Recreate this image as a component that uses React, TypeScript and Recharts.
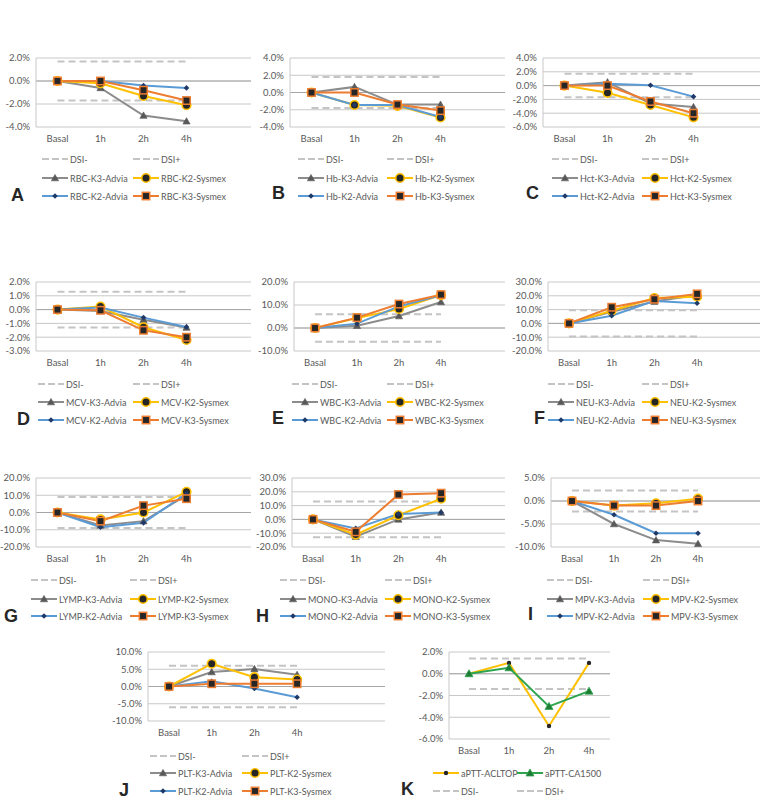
import React from 'react';
import { LineChart, Line, XAxis, YAxis, CartesianGrid, ReferenceLine } from 'recharts';

const categories = ['Basal', '1h', '2h', '4h'];

// A – RBC
const rbcK3Advia = [0, -0.6, -3.0, -3.5];
const rbcK2Sysmex = [0, -0.2, -1.3, -2.1];
const rbcK2Advia = [0, 0.0, -0.4, -0.6];
const rbcK3Sysmex = [0, 0.0, -0.8, -1.7];
const rbcDsi = 1.7;
const rbcTicks = [2, 0, -2, -4];

// B – Hb
const hbK3Advia = [0, 0.65, -1.4, -1.4];
const hbK2Sysmex = [0, -1.45, -1.55, -2.9];
const hbK2Advia = [0, -1.45, -1.45, -2.85];
const hbK3Sysmex = [0, 0.0, -1.4, -2.1];
const hbDsi = 1.8;
const hbTicks = [4, 2, 0, -2, -4];

// C – Hct
const hctK3Advia = [0, 0.5, -2.6, -3.1];
const hctK2Sysmex = [0, -1.05, -2.8, -4.6];
const hctK2Advia = [0, 0.25, 0.05, -1.6];
const hctK3Sysmex = [0, 0.0, -2.3, -4.0];
const hctDsi = 1.7;
const hctTicks = [4, 2, 0, -2, -4, -6];

// D – MCV
const mcvK3Advia = [0, -0.1, -0.73, -1.3];
const mcvK2Sysmex = [0, 0.22, -1.28, -2.2];
const mcvK2Advia = [0, 0.15, -0.58, -1.26];
const mcvK3Sysmex = [0, -0.05, -1.5, -2.0];
const mcvDsi = 1.3;
const mcvTicks = [2, 1, 0, -1, -2, -3];

// E – WBC
const wbcK3Advia = [0, 1.0, 5.2, 11.3];
const wbcK2Sysmex = [0, 4.3, 8.3, 14.3];
const wbcK2Advia = [0, 1.9, 9.4, 14.2];
const wbcK3Sysmex = [0, 4.5, 10.4, 14.5];
const wbcDsi = 6;
const wbcTicks = [20, 10, 0, -10];

// F – NEU
const neuK3Advia = [0, 8.5, 15.8, 20.6];
const neuK2Sysmex = [0, 9.2, 18.4, 19.4];
const neuK2Advia = [0, 5.6, 16.3, 14.6];
const neuK3Sysmex = [0, 11.7, 17.5, 21.4];
const neuDsi = 9.5;
const neuTicks = [30, 20, 10, 0, -10, -20];

// G – LYMP
const lympK3Advia = [0, -7.5, -5, 10];
const lympK2Sysmex = [0, -4, 0, 12];
const lympK2Advia = [0, -8.5, -6, 11];
const lympK3Sysmex = [0, -5, 4, 8];
const lympDsi = 9;
const lympTicks = [20, 10, 0, -10, -20];

// H – MONO
const monoK3Advia = [0, -12.5, 0, 5];
const monoK2Sysmex = [0, -11, 3, 15];
const monoK2Advia = [0, -6.5, 4, 5];
const monoK3Sysmex = [0, -9, 18, 19];
const monoDsi = 13;
const monoTicks = [30, 20, 10, 0, -10, -20];

// I – MPV
const mpvK3Advia = [0, -5, -8.5, -9.3];
const mpvK2Sysmex = [0, -1, -0.5, 0.5];
const mpvK2Advia = [0, -3, -7.0, -7.0];
const mpvK3Sysmex = [0, -1, -1, 0];
const mpvDsi = 2.3;
const mpvTicks = [5, 0, -5, -10];

// J – PLT
const pltK3Advia = [0, 4.2, 5.1, 3.4];
const pltK2Sysmex = [0, 6.6, 2.7, 2.0];
const pltK2Advia = [0, 1.5, -0.6, -3.1];
const pltK3Sysmex = [0, 0.8, 0.8, 0.8];
const pltDsi = 6;
const pltTicks = [10, 5, 0, -5, -10];

// K – aPTT
const apttAcltop = [0, 1.0, -4.8, 1.0];
const apttCa1500 = [0, 0.55, -3.0, -1.6];
const apttDsi = 1.4;
const apttTicks = [2, 0, -2, -4, -6];

type Kind = 'k3a' | 'k2s' | 'k2a' | 'k3s' | 'acl' | 'ca' | 'dsi';

const COLORS: Record<Kind, string> = {
  k3a: '#8C8C8C',
  k2s: '#FFC000',
  k2a: '#5B9BD5',
  k3s: '#ED7D31',
  acl: '#FFC000',
  ca: '#2DA44E',
  dsi: '#C4C4C4',
};

function Marker({ kind, cx, cy }: { kind: Kind; cx: number; cy: number }) {
  if (cx == null || cy == null) return null;
  switch (kind) {
    case 'k3a':
      return <path d={`M${cx},${cy - 3.6}L${cx + 3.6},${cy + 2.8}L${cx - 3.6},${cy + 2.8}Z`} fill="#595959" stroke="#595959" strokeWidth={0.6} />;
    case 'k2s':
      return <circle cx={cx} cy={cy} r={4.3} fill="#262626" stroke="#FFC000" strokeWidth={1.6} />;
    case 'k2a':
      return <path d={`M${cx},${cy - 2.8}L${cx + 2.8},${cy}L${cx},${cy + 2.8}L${cx - 2.8},${cy}Z`} fill="#1F3A68" />;
    case 'k3s':
      return <rect x={cx - 3.7} y={cy - 3.7} width={7.4} height={7.4} fill="#262626" stroke="#ED7D31" strokeWidth={1.5} />;
    case 'acl':
      return <circle cx={cx} cy={cy} r={2.2} fill="#262626" />;
    case 'ca':
      return <path d={`M${cx},${cy - 4}L${cx + 4},${cy + 3}L${cx - 4},${cy + 3}Z`} fill="#1E7B34" stroke="#2DA44E" strokeWidth={0.8} />;
    default:
      return null;
  }
}

type Series = { kind: Kind; label: string; values: number[] };
type LegendItem = { kind: Kind; label: string };

type PanelCfg = {
  letter: string;
  plot: { x: number; y: number; w: number; h: number };
  sp: number;
  pad: number;
  ticks: number[];
  dsi: number;
  series: Series[];
  legend: { x1: number; x2: number; rows: number[]; items: [LegendItem, LegendItem][] };
  letterPos: { x: number; y: number };
};

function std(prefix: string, k3a: number[], k2s: number[], k2a: number[], k3s: number[]): Series[] {
  return [
    { kind: 'k3a', label: `${prefix}-K3-Advia`, values: k3a },
    { kind: 'k2s', label: `${prefix}-K2-Sysmex`, values: k2s },
    { kind: 'k2a', label: `${prefix}-K2-Advia`, values: k2a },
    { kind: 'k3s', label: `${prefix}-K3-Sysmex`, values: k3s },
  ];
}

const dsiRow: [LegendItem, LegendItem] = [
  { kind: 'dsi', label: 'DSI-' },
  { kind: 'dsi', label: 'DSI+' },
];

function stdLegend(s: Series[]): [LegendItem, LegendItem][] {
  return [dsiRow, [s[0], s[1]], [s[2], s[3]]];
}

function mk(letter: string, prefix: string, arrs: number[][], ticks: number[], dsi: number,
  plot: PanelCfg['plot'], sp: number, pad: number, x1: number, x2: number, rows: number[], letterPos: { x: number; y: number }): PanelCfg {
  const series = std(prefix, arrs[0], arrs[1], arrs[2], arrs[3]);
  return { letter, plot, sp, pad, ticks, dsi, series, legend: { x1, x2, rows, items: stdLegend(series) }, letterPos };
}

const row1 = [159, 178, 196];
const row2 = [384, 402, 420];
const row3 = [580, 599, 616];

const panels: PanelCfg[] = [
  mk('A', 'RBC', [rbcK3Advia, rbcK2Sysmex, rbcK2Advia, rbcK3Sysmex], rbcTicks, rbcDsi, { x: 36, y: 58, w: 215, h: 69 }, 43, 21.5, 42, 133, row1, { x: 11, y: 201 }),
  mk('B', 'Hb', [hbK3Advia, hbK2Sysmex, hbK2Advia, hbK3Sysmex], hbTicks, hbDsi, { x: 290, y: 58, w: 215, h: 69 }, 43, 21.5, 298, 387, row1, { x: 272, y: 199 }),
  mk('C', 'Hct', [hctK3Advia, hctK2Sysmex, hctK2Advia, hctK3Sysmex], hctTicks, hctDsi, { x: 543, y: 58, w: 217, h: 69 }, 43, 21.5, 552, 642, row1, { x: 526, y: 199 }),
  mk('D', 'MCV', [mcvK3Advia, mcvK2Sysmex, mcvK2Advia, mcvK3Sysmex], mcvTicks, mcvDsi, { x: 36, y: 282, w: 215, h: 69 }, 43, 21.5, 38, 133, row2, { x: 17, y: 425 }),
  mk('E', 'WBC', [wbcK3Advia, wbcK2Sysmex, wbcK2Advia, wbcK3Sysmex], wbcTicks, wbcDsi, { x: 294, y: 282, w: 211, h: 69 }, 42, 21, 292, 387, row2, { x: 272, y: 424 }),
  mk('F', 'NEU', [neuK3Advia, neuK2Sysmex, neuK2Advia, neuK3Sysmex], neuTicks, neuDsi, { x: 548, y: 282, w: 212, h: 69 }, 42.7, 21, 548, 642, row2, { x: 534, y: 424 }),
  mk('G', 'LYMP', [lympK3Advia, lympK2Sysmex, lympK2Advia, lympK3Sysmex], lympTicks, lympDsi, { x: 36, y: 478, w: 215, h: 69 }, 43, 21.5, 31, 130, row3, { x: 4, y: 622 }),
  mk('H', 'MONO', [monoK3Advia, monoK2Sysmex, monoK2Advia, monoK3Sysmex], monoTicks, monoDsi, { x: 292, y: 478, w: 213, h: 69 }, 42.7, 21, 280, 385, row3, { x: 256, y: 622 }),
  mk('I', 'MPV', [mpvK3Advia, mpvK2Sysmex, mpvK2Advia, mpvK3Sysmex], mpvTicks, mpvDsi, { x: 551, y: 478, w: 209, h: 69 }, 42, 21, 547, 643, row3, { x: 528, y: 620 }),
  mk('J', 'PLT', [pltK3Advia, pltK2Sysmex, pltK2Advia, pltK3Sysmex], pltTicks, pltDsi, { x: 148, y: 652, w: 237, h: 69 }, 42.7, 21, 150, 242, [756, 773, 791], { x: 119, y: 796 }),
];

const apttSeries: Series[] = [
  { kind: 'acl', label: 'aPTT-ACLTOP', values: apttAcltop },
  { kind: 'ca', label: 'aPTT-CA1500', values: apttCa1500 },
];
panels.push({
  letter: 'K',
  plot: { x: 449, y: 652, w: 161, h: 87 },
  sp: 40,
  pad: 20,
  ticks: apttTicks,
  dsi: apttDsi,
  series: apttSeries,
  legend: { x1: 433, x2: 517, rows: [773, 791], items: [[apttSeries[0], apttSeries[1]], dsiRow] },
  letterPos: { x: 401, y: 795 },
});

const YW = 45;
const MT = 6;
const XH = 22;
const MR = 2;
const FONT = "Lato, 'Liberation Sans', Arial, sans-serif";
const FS = 9.5;
const LFS = 9;

function fmt(v: number) {
  return `${v.toFixed(1)}%`;
}

function Panel({ p }: { p: PanelCfg }) {
  const rows = categories.map((t, i) => {
    const r: Record<string, number | string> = { t, dsiLo: -p.dsi, dsiHi: p.dsi };
    p.series.forEach((s, j) => {
      r[`s${j}`] = s.values[i];
    });
    return r;
  });
  const padR = p.plot.w - p.pad - 3 * p.sp;
  const max = Math.max(...p.ticks);
  const min = Math.min(...p.ticks);
  return (
    <div style={{ position: 'absolute', left: p.plot.x - YW, top: p.plot.y - MT }}>
      <LineChart
        width={p.plot.w + YW + MR}
        height={p.plot.h + MT + XH}
        data={rows}
        margin={{ top: MT, right: MR, bottom: 0, left: 0 }}
      >
        <CartesianGrid vertical={false} stroke="#C8C8C8" />
        <XAxis
          dataKey="t"
          interval={0}
          padding={{ left: p.pad, right: padR }}
          tickLine={false}
          axisLine={false}
          height={XH}
          tick={{ fontSize: FS, fill: '#595959', fontFamily: FONT }}
        />
        <YAxis
          type="number"
          domain={[min, max]}
          ticks={p.ticks}
          interval={0}
          width={YW}
          tickFormatter={fmt}
          tickLine={false}
          tickSize={3}
          tickMargin={3}
          axisLine={{ stroke: '#C8C8C8' }}
          tick={{ fontSize: FS, fill: '#595959', fontFamily: FONT }}
        />
        <ReferenceLine y={0} stroke="#A6A6A6" />
        <Line dataKey="dsiLo" stroke={COLORS.dsi} strokeWidth={2} strokeDasharray="7 4" dot={false} isAnimationActive={false} />
        <Line dataKey="dsiHi" stroke={COLORS.dsi} strokeWidth={2} strokeDasharray="7 4" dot={false} isAnimationActive={false} />
        {p.series.map((s, j) => (
          <Line
            key={s.label}
            dataKey={`s${j}`}
            stroke={COLORS[s.kind]}
            strokeWidth={2}
            isAnimationActive={false}
            dot={(d: any) => <Marker key={`${s.label}-${d.index}`} kind={s.kind} cx={d.cx} cy={d.cy} />}
            activeDot={false}
          />
        ))}
      </LineChart>
    </div>
  );
}

function LegendOverlay() {
  const LL = 26;
  return (
    <svg width={763} height={800} style={{ position: 'absolute', left: 0, top: 0, pointerEvents: 'none' }}>
      {panels.map((p) => (
        <g key={p.letter}>
          {p.legend.items.map((pair, ri) =>
            pair.map((it, ci) => {
              const x = ci === 0 ? p.legend.x1 : p.legend.x2;
              const y = p.legend.rows[ri];
              return (
                <g key={`${ri}-${ci}`}>
                  <line
                    x1={x}
                    x2={x + LL}
                    y1={y}
                    y2={y}
                    stroke={COLORS[it.kind]}
                    strokeWidth={2}
                    strokeDasharray={it.kind === 'dsi' ? '7 3' : undefined}
                  />
                  {it.kind !== 'dsi' && <Marker kind={it.kind} cx={x + LL / 2} cy={y} />}
                  <text x={x + LL + 2} y={y} dominantBaseline="central" fontSize={LFS} fontFamily={FONT} fill="#595959">
                    {it.label}
                  </text>
                </g>
              );
            })
          )}
          <text x={p.letterPos.x} y={p.letterPos.y} fontSize={18} fontWeight="bold" fontFamily="'Liberation Sans', Arial, sans-serif" fill="#262626">
            {p.letter}
          </text>
        </g>
      ))}
    </svg>
  );
}

export default function App() {
  return (
    <div
      style={{
        position: 'absolute',
        left: 0,
        top: 0,
        width: 763,
        height: 800,
        background: '#ffffff',
        fontFamily: FONT,
      }}
    >
      {panels.map((p) => (
        <Panel key={p.letter} p={p} />
      ))}
      <LegendOverlay />
    </div>
  );
}
